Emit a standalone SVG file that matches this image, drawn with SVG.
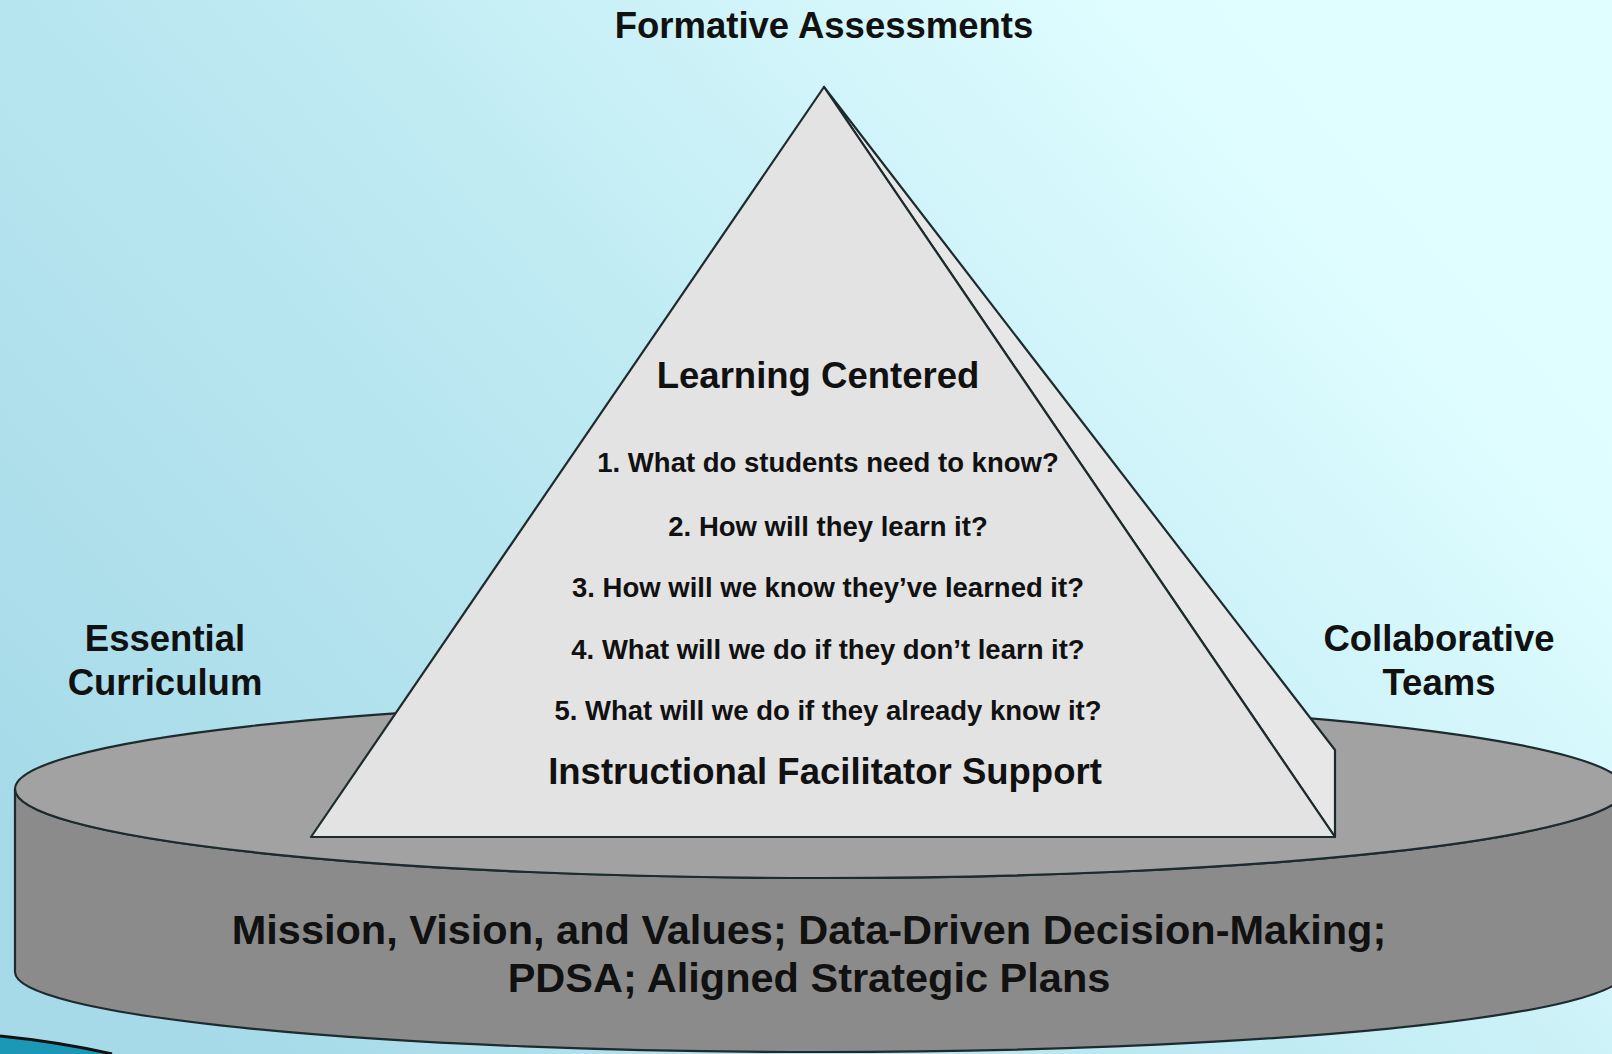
<svg xmlns="http://www.w3.org/2000/svg" width="1612" height="1054" viewBox="0 0 1612 1054">
  <defs>
    <linearGradient id="sky" gradientUnits="userSpaceOnUse" x1="200" y1="1054" x2="1300" y2="80">
      <stop offset="0" stop-color="#a6dae8"/>
      <stop offset="0.5" stop-color="#bde9f2"/>
      <stop offset="0.95" stop-color="#dffdff"/>
      <stop offset="1" stop-color="#e0feff"/>
    </linearGradient>
    <style>
      .edge { stroke: #1d2a2e; stroke-width: 2.2; stroke-linejoin: round; }
      .lbl { font-family: "Liberation Sans", Arial, sans-serif; font-weight: bold; fill: #111; text-anchor: middle; }
      .head { font-size: 36.5px; }
      .q { font-size: 27.5px; }
      .base { font-size: 41.5px; }
    </style>
  </defs>

  <!-- backdrop -->
  <rect x="0" y="0" width="1612" height="1054" fill="url(#sky)"/>
  <path d="M0,1036 Q60,1042 112,1054 L0,1054 Z" fill="#1b98b6"/>
  <path d="M0,1036 Q60,1042 112,1054" fill="none" stroke="#111" stroke-width="3"/>

  <!-- foundation disk -->
  <g id="foundation">
    <path class="edge" fill="#8b8b8b" d="M15,789 L15,972 A805,80 0 0 0 1625,972 L1625,789 A805,89 0 0 1 15,789 Z"/>
    <ellipse class="edge" cx="820" cy="789" rx="805" ry="89" fill="#a2a2a2"/>
    <text class="lbl base" x="809" y="944">Mission, Vision, and Values; Data-Driven Decision-Making;</text>
    <text class="lbl base" x="809" y="992">PDSA; Aligned Strategic Plans</text>
  </g>

  <!-- pyramid -->
  <g id="pyramid">
    <polygon class="edge" fill="#e7e7e7" points="824,87 1335,750 1335,837"/>
    <polygon class="edge" fill="#e3e3e3" points="824,87 311,837 1335,837"/>
    <text class="lbl head" x="818" y="388">Learning Centered</text>
    <text class="lbl q" x="828" y="472">1. What do students need to know?</text>
    <text class="lbl q" x="828" y="536">2. How will they learn it?</text>
    <text class="lbl q" x="828" y="597">3. How will we know they’ve learned it?</text>
    <text class="lbl q" x="828" y="659">4. What will we do if they don’t learn it?</text>
    <text class="lbl q" x="828" y="720">5. What will we do if they already know it?</text>
    <text class="lbl head" x="825" y="784">Instructional Facilitator Support</text>
  </g>

  <!-- surrounding labels -->
  <g id="formative">
    <text class="lbl head" x="824" y="38">Formative Assessments</text>
  </g>
  <g id="curriculum">
    <text class="lbl head" x="165" y="651">Essential</text>
    <text class="lbl head" x="165" y="695">Curriculum</text>
  </g>
  <g id="teams">
    <text class="lbl head" x="1439" y="651">Collaborative</text>
    <text class="lbl head" x="1439" y="695">Teams</text>
  </g>

  <g id="connectors"/>
</svg>
